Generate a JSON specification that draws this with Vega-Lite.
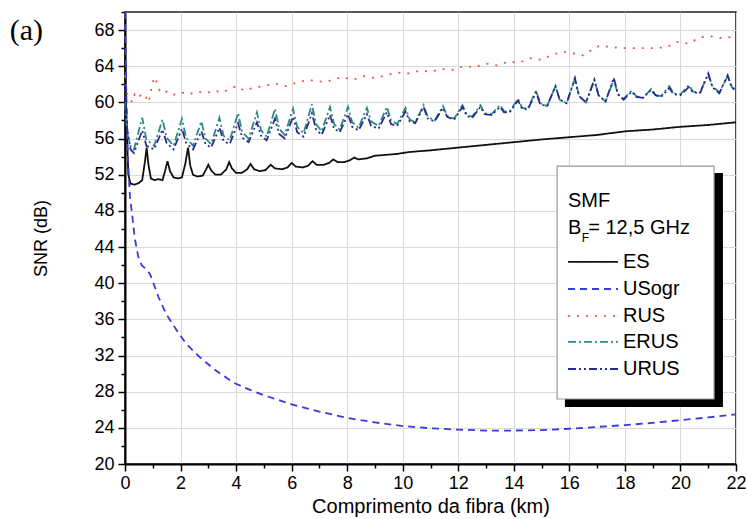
{
  "$schema": "https://vega.github.io/schema/vega-lite/v6.json",
  "width": 611,
  "height": 452,
  "autosize": {"type": "none"},
  "padding": {"left": 125, "top": 12, "right": 11, "bottom": 55},
  "background": "white",
  "config": {
    "view": {"stroke": "#222", "strokeWidth": 1.6},
    "axis": {"labelFont": "Liberation Sans", "labelFontSize": 18, "labelColor": "#000", "titleFont": "Liberation Sans", "titleFontSize": 18, "titleFontWeight": "normal", "titleColor": "#000", "domainColor": "#000", "domainWidth": 2, "tickColor": "#000", "tickWidth": 1.5, "gridColor": "#d9d9d9", "gridWidth": 1, "labelOverlap": false, "labelFlush": false, "labelBound": false}
  },
  "datasets": {
    "lines": [
      {"s":"ES","x":0,"y":67},{"s":"ES","x":0.05,"y":58},{"s":"ES","x":0.12,"y":52},{"s":"ES","x":0.2,"y":51},{"s":"ES","x":0.35,"y":50.9},{"s":"ES","x":0.5,"y":51.1},{"s":"ES","x":0.62,"y":51.4},{"s":"ES","x":0.72,"y":53.5},{"s":"ES","x":0.78,"y":55.0},{"s":"ES","x":0.84,"y":53.2},{"s":"ES","x":0.93,"y":51.6},{"s":"ES","x":1.05,"y":51.4},{"s":"ES","x":1.2,"y":51.5},{"s":"ES","x":1.35,"y":51.4},{"s":"ES","x":1.45,"y":52.5},{"s":"ES","x":1.53,"y":53.5},{"s":"ES","x":1.62,"y":52.4},{"s":"ES","x":1.75,"y":51.7},{"s":"ES","x":1.9,"y":51.6},{"s":"ES","x":2.05,"y":51.7},{"s":"ES","x":2.17,"y":53.2},{"s":"ES","x":2.27,"y":55.0},{"s":"ES","x":2.35,"y":53.0},{"s":"ES","x":2.45,"y":52.0},{"s":"ES","x":2.6,"y":51.8},{"s":"ES","x":2.8,"y":51.9},{"s":"ES","x":2.92,"y":52.6},{"s":"ES","x":3.0,"y":53.1},{"s":"ES","x":3.1,"y":52.5},{"s":"ES","x":3.25,"y":52.0},{"s":"ES","x":3.45,"y":52.0},{"s":"ES","x":3.65,"y":52.6},{"s":"ES","x":3.75,"y":53.4},{"s":"ES","x":3.85,"y":52.7},{"s":"ES","x":4.0,"y":52.2},{"s":"ES","x":4.2,"y":52.2},{"s":"ES","x":4.4,"y":52.6},{"s":"ES","x":4.52,"y":53.2},{"s":"ES","x":4.65,"y":52.6},{"s":"ES","x":4.85,"y":52.4},{"s":"ES","x":5.05,"y":52.5},{"s":"ES","x":5.25,"y":53.1},{"s":"ES","x":5.4,"y":52.7},{"s":"ES","x":5.65,"y":52.6},{"s":"ES","x":5.85,"y":52.8},{"s":"ES","x":6.0,"y":53.3},{"s":"ES","x":6.15,"y":52.9},{"s":"ES","x":6.4,"y":52.8},{"s":"ES","x":6.6,"y":53.0},{"s":"ES","x":6.75,"y":53.5},{"s":"ES","x":6.9,"y":53.1},{"s":"ES","x":7.15,"y":53.1},{"s":"ES","x":7.35,"y":53.3},{"s":"ES","x":7.5,"y":53.7},{"s":"ES","x":7.65,"y":53.4},{"s":"ES","x":7.9,"y":53.4},{"s":"ES","x":8.1,"y":53.6},{"s":"ES","x":8.25,"y":53.9},{"s":"ES","x":8.4,"y":53.7},{"s":"ES","x":8.7,"y":53.8},{"s":"ES","x":9.0,"y":54.1},{"s":"ES","x":9.4,"y":54.2},{"s":"ES","x":9.8,"y":54.3},{"s":"ES","x":10.2,"y":54.5},{"s":"ES","x":11,"y":54.7},{"s":"ES","x":12,"y":55.0},{"s":"ES","x":13,"y":55.3},{"s":"ES","x":14,"y":55.6},{"s":"ES","x":15,"y":55.9},{"s":"ES","x":16,"y":56.15},{"s":"ES","x":17,"y":56.4},{"s":"ES","x":18,"y":56.8},{"s":"ES","x":19,"y":57.0},{"s":"ES","x":20,"y":57.3},{"s":"ES","x":21,"y":57.5},{"s":"ES","x":22,"y":57.8},
      {"s":"USogr","x":0,"y":70},{"s":"USogr","x":0.04,"y":62},{"s":"USogr","x":0.1,"y":54},{"s":"USogr","x":0.18,"y":49.5},{"s":"USogr","x":0.25,"y":47.8},{"s":"USogr","x":0.35,"y":45},{"s":"USogr","x":0.48,"y":42.9},{"s":"USogr","x":0.6,"y":42},{"s":"USogr","x":0.78,"y":41.5},{"s":"USogr","x":0.9,"y":41},{"s":"USogr","x":1.0,"y":40.2},{"s":"USogr","x":1.2,"y":38.5},{"s":"USogr","x":1.5,"y":36.5},{"s":"USogr","x":1.86,"y":34.8},{"s":"USogr","x":2.2,"y":33.3},{"s":"USogr","x":2.7,"y":31.8},{"s":"USogr","x":3.2,"y":30.5},{"s":"USogr","x":3.9,"y":29.0},{"s":"USogr","x":4.5,"y":28.2},{"s":"USogr","x":5.1,"y":27.5},{"s":"USogr","x":6.0,"y":26.6},{"s":"USogr","x":7.0,"y":25.8},{"s":"USogr","x":8.0,"y":25.1},{"s":"USogr","x":9.0,"y":24.6},{"s":"USogr","x":10,"y":24.2},{"s":"USogr","x":11,"y":23.95},{"s":"USogr","x":12,"y":23.8},{"s":"USogr","x":13,"y":23.7},{"s":"USogr","x":14,"y":23.7},{"s":"USogr","x":15,"y":23.75},{"s":"USogr","x":16,"y":23.9},{"s":"USogr","x":17,"y":24.1},{"s":"USogr","x":18,"y":24.3},{"s":"USogr","x":19,"y":24.55},{"s":"USogr","x":20,"y":24.85},{"s":"USogr","x":21,"y":25.15},{"s":"USogr","x":22,"y":25.5},
      {"s":"RUS","x":0,"y":63},{"s":"RUS","x":0.05,"y":61},{"s":"RUS","x":0.15,"y":60.8},{"s":"RUS","x":0.25,"y":60.0},{"s":"RUS","x":0.35,"y":60.9},{"s":"RUS","x":0.5,"y":60.5},{"s":"RUS","x":0.6,"y":61.0},{"s":"RUS","x":0.75,"y":60.6},{"s":"RUS","x":0.85,"y":60.0},{"s":"RUS","x":0.95,"y":61.5},{"s":"RUS","x":1.05,"y":62.8},{"s":"RUS","x":1.15,"y":62.2},{"s":"RUS","x":1.25,"y":61.3},{"s":"RUS","x":1.35,"y":61.0},{"s":"RUS","x":1.5,"y":61.2},{"s":"RUS","x":1.7,"y":60.8},{"s":"RUS","x":2.0,"y":61.1},{"s":"RUS","x":2.3,"y":60.9},{"s":"RUS","x":2.6,"y":61.2},{"s":"RUS","x":2.9,"y":61.0},{"s":"RUS","x":3.2,"y":61.3},{"s":"RUS","x":3.5,"y":61.1},{"s":"RUS","x":3.8,"y":61.5},{"s":"RUS","x":4.0,"y":61.8},{"s":"RUS","x":4.3,"y":61.3},{"s":"RUS","x":4.6,"y":61.6},{"s":"RUS","x":5.0,"y":61.8},{"s":"RUS","x":5.4,"y":62.1},{"s":"RUS","x":5.8,"y":61.8},{"s":"RUS","x":6.2,"y":62.2},{"s":"RUS","x":6.6,"y":62.5},{"s":"RUS","x":7.0,"y":62.3},{"s":"RUS","x":7.4,"y":62.4},{"s":"RUS","x":7.8,"y":62.8},{"s":"RUS","x":8.2,"y":62.5},{"s":"RUS","x":8.6,"y":62.9},{"s":"RUS","x":9.0,"y":62.7},{"s":"RUS","x":9.4,"y":63.0},{"s":"RUS","x":9.8,"y":63.3},{"s":"RUS","x":10.2,"y":63.2},{"s":"RUS","x":10.6,"y":63.5},{"s":"RUS","x":11.0,"y":63.4},{"s":"RUS","x":11.4,"y":63.7},{"s":"RUS","x":11.8,"y":63.6},{"s":"RUS","x":12.2,"y":64.0},{"s":"RUS","x":12.6,"y":63.9},{"s":"RUS","x":13.0,"y":64.3},{"s":"RUS","x":13.4,"y":64.1},{"s":"RUS","x":13.8,"y":64.5},{"s":"RUS","x":14.2,"y":64.4},{"s":"RUS","x":14.6,"y":64.9},{"s":"RUS","x":15.0,"y":64.7},{"s":"RUS","x":15.4,"y":65.3},{"s":"RUS","x":15.8,"y":65.6},{"s":"RUS","x":16.2,"y":65.4},{"s":"RUS","x":16.5,"y":65.2},{"s":"RUS","x":16.8,"y":65.8},{"s":"RUS","x":17.1,"y":66.3},{"s":"RUS","x":17.5,"y":66.1},{"s":"RUS","x":18.0,"y":66.0},{"s":"RUS","x":18.5,"y":66.0},{"s":"RUS","x":19.0,"y":66.0},{"s":"RUS","x":19.5,"y":66.1},{"s":"RUS","x":19.9,"y":66.7},{"s":"RUS","x":20.3,"y":66.5},{"s":"RUS","x":20.7,"y":67.2},{"s":"RUS","x":21.1,"y":67.3},{"s":"RUS","x":21.5,"y":67.1},{"s":"RUS","x":22.0,"y":67.3},
      {"s":"ERUS","x":0,"y":60},{"s":"ERUS","x":0.08,"y":56.5},{"s":"ERUS","x":0.2,"y":55.2},
      {"s":"ERUS","x":0.32,"y":54.8},{"s":"ERUS","x":0.62,"y":58.3},{"s":"ERUS","x":0.77,"y":55.9},
      {"s":"ERUS","x":1.05,"y":55.2},{"s":"ERUS","x":1.35,"y":58.1},{"s":"ERUS","x":1.5,"y":56.1},
      {"s":"ERUS","x":1.75,"y":55.2},{"s":"ERUS","x":2.05,"y":58.2},{"s":"ERUS","x":2.2,"y":56.1},
      {"s":"ERUS","x":2.45,"y":55.2},{"s":"ERUS","x":2.75,"y":57.9},{"s":"ERUS","x":2.9,"y":56.0},
      {"s":"ERUS","x":3.1,"y":55.4},{"s":"ERUS","x":3.4,"y":58.3},{"s":"ERUS","x":3.55,"y":56.3},
      {"s":"ERUS","x":3.77,"y":55.8},{"s":"ERUS","x":4.07,"y":58.8},{"s":"ERUS","x":4.22,"y":56.7},
      {"s":"ERUS","x":4.45,"y":56.0},{"s":"ERUS","x":4.75,"y":58.9},{"s":"ERUS","x":4.9,"y":56.9},
      {"s":"ERUS","x":5.1,"y":56.2},{"s":"ERUS","x":5.4,"y":59.3},{"s":"ERUS","x":5.55,"y":57.1},
      {"s":"ERUS","x":5.75,"y":56.4},{"s":"ERUS","x":6.05,"y":59.3},{"s":"ERUS","x":6.2,"y":57.3},
      {"s":"ERUS","x":6.43,"y":56.6},{"s":"ERUS","x":6.73,"y":59.8},{"s":"ERUS","x":6.88,"y":57.6},
      {"s":"ERUS","x":7.08,"y":56.8},{"s":"ERUS","x":7.38,"y":59.5},{"s":"ERUS","x":7.53,"y":57.6},
      {"s":"ERUS","x":7.73,"y":57.0},{"s":"ERUS","x":8.03,"y":59.5},{"s":"ERUS","x":8.18,"y":57.8},
      {"s":"ERUS","x":8.41,"y":57.2},{"s":"ERUS","x":8.71,"y":59.4},{"s":"ERUS","x":8.86,"y":57.9},
      {"s":"ERUS","x":9.13,"y":57.4},{"s":"ERUS","x":9.43,"y":59.5},{"s":"ERUS","x":9.58,"y":58.0},
      {"s":"ERUS","x":9.8,"y":57.6},{"s":"ERUS","x":10.1,"y":59.4},{"s":"ERUS","x":10.25,"y":58.1},
      {"s":"ERUS","x":10.45,"y":57.8},{"s":"ERUS","x":10.75,"y":59.7},{"s":"ERUS","x":10.9,"y":58.4},
      {"s":"ERUS","x":11.15,"y":58.0},{"s":"ERUS","x":11.45,"y":59.6},{"s":"ERUS","x":11.6,"y":58.5},
      {"s":"ERUS","x":11.85,"y":58.2},{"s":"ERUS","x":12.15,"y":59.7},{"s":"ERUS","x":12.3,"y":58.7},
      {"s":"ERUS","x":12.5,"y":58.4},{"s":"ERUS","x":12.8,"y":59.7},{"s":"ERUS","x":12.95,"y":58.8},
      {"s":"ERUS","x":13.2,"y":58.7},{"s":"ERUS","x":13.5,"y":59.7},{"s":"ERUS","x":13.65,"y":59.0},
      {"s":"ERUS","x":13.85,"y":59.0},{"s":"ERUS","x":14.15,"y":60.4},{"s":"ERUS","x":14.3,"y":59.4},
      {"s":"ERUS","x":14.5,"y":59.3},{"s":"ERUS","x":14.8,"y":61.3},{"s":"ERUS","x":14.95,"y":59.9},
      {"s":"ERUS","x":15.2,"y":59.6},{"s":"ERUS","x":15.5,"y":61.8},{"s":"ERUS","x":15.65,"y":60.3},
      {"s":"ERUS","x":15.9,"y":59.9},{"s":"ERUS","x":16.2,"y":62.6},{"s":"ERUS","x":16.35,"y":60.7},
      {"s":"ERUS","x":16.6,"y":60.0},{"s":"ERUS","x":16.9,"y":62.5},{"s":"ERUS","x":17.05,"y":60.8},
      {"s":"ERUS","x":17.3,"y":60.1},{"s":"ERUS","x":17.6,"y":62.5},{"s":"ERUS","x":17.75,"y":60.9},
      {"s":"ERUS","x":17.95,"y":60.4},{"s":"ERUS","x":18.25,"y":61.3},{"s":"ERUS","x":18.4,"y":60.7},
      {"s":"ERUS","x":18.65,"y":60.5},{"s":"ERUS","x":18.95,"y":61.5},{"s":"ERUS","x":19.1,"y":60.8},
      {"s":"ERUS","x":19.3,"y":60.7},{"s":"ERUS","x":19.6,"y":61.8},{"s":"ERUS","x":19.75,"y":61.0},
      {"s":"ERUS","x":20.0,"y":60.9},{"s":"ERUS","x":20.3,"y":61.9},{"s":"ERUS","x":20.45,"y":61.2},
      {"s":"ERUS","x":20.7,"y":61.1},{"s":"ERUS","x":21.0,"y":63.1},{"s":"ERUS","x":21.15,"y":61.8},
      {"s":"ERUS","x":21.4,"y":61.1},{"s":"ERUS","x":21.7,"y":62.9},{"s":"ERUS","x":21.85,"y":61.7},
      {"s":"ERUS","x":22,"y":61.4},
      {"s":"URUS","x":0,"y":62},{"s":"URUS","x":0.08,"y":57},{"s":"URUS","x":0.2,"y":54.8},
      {"s":"URUS","x":0.32,"y":54.4},{"s":"URUS","x":0.62,"y":56.9},{"s":"URUS","x":0.77,"y":55.2},
      {"s":"URUS","x":1.05,"y":54.8},{"s":"URUS","x":1.35,"y":57.0},{"s":"URUS","x":1.5,"y":55.5},
      {"s":"URUS","x":1.75,"y":54.8},{"s":"URUS","x":2.05,"y":57.1},{"s":"URUS","x":2.2,"y":55.5},
      {"s":"URUS","x":2.45,"y":54.8},{"s":"URUS","x":2.75,"y":56.8},{"s":"URUS","x":2.9,"y":55.4},
      {"s":"URUS","x":3.1,"y":55.0},{"s":"URUS","x":3.4,"y":57.2},{"s":"URUS","x":3.55,"y":55.7},
      {"s":"URUS","x":3.77,"y":55.4},{"s":"URUS","x":4.07,"y":57.7},{"s":"URUS","x":4.22,"y":56.1},
      {"s":"URUS","x":4.45,"y":55.6},{"s":"URUS","x":4.75,"y":57.8},{"s":"URUS","x":4.9,"y":56.3},
      {"s":"URUS","x":5.1,"y":55.8},{"s":"URUS","x":5.4,"y":58.2},{"s":"URUS","x":5.55,"y":56.5},
      {"s":"URUS","x":5.75,"y":56.0},{"s":"URUS","x":6.05,"y":58.4},{"s":"URUS","x":6.2,"y":56.7},
      {"s":"URUS","x":6.43,"y":56.2},{"s":"URUS","x":6.73,"y":58.8},{"s":"URUS","x":6.88,"y":57.0},
      {"s":"URUS","x":7.08,"y":56.4},{"s":"URUS","x":7.38,"y":58.6},{"s":"URUS","x":7.53,"y":57.1},
      {"s":"URUS","x":7.73,"y":56.7},{"s":"URUS","x":8.03,"y":58.7},{"s":"URUS","x":8.18,"y":57.3},
      {"s":"URUS","x":8.41,"y":56.9},{"s":"URUS","x":8.71,"y":58.7},{"s":"URUS","x":8.86,"y":57.4},
      {"s":"URUS","x":9.13,"y":57.1},{"s":"URUS","x":9.43,"y":58.9},{"s":"URUS","x":9.58,"y":57.6},
      {"s":"URUS","x":9.8,"y":57.4},{"s":"URUS","x":10.1,"y":59.0},{"s":"URUS","x":10.25,"y":57.9},
      {"s":"URUS","x":10.45,"y":57.7},{"s":"URUS","x":10.75,"y":59.5},{"s":"URUS","x":10.9,"y":58.2},
      {"s":"URUS","x":11.15,"y":57.9},{"s":"URUS","x":11.45,"y":59.4},{"s":"URUS","x":11.6,"y":58.4},
      {"s":"URUS","x":11.85,"y":58.1},{"s":"URUS","x":12.15,"y":59.5},{"s":"URUS","x":12.3,"y":58.5},
      {"s":"URUS","x":12.5,"y":58.3},{"s":"URUS","x":12.8,"y":59.5},{"s":"URUS","x":12.95,"y":58.7},
      {"s":"URUS","x":13.2,"y":58.6},{"s":"URUS","x":13.5,"y":59.5},{"s":"URUS","x":13.65,"y":58.9},
      {"s":"URUS","x":13.85,"y":58.9},{"s":"URUS","x":14.15,"y":60.2},{"s":"URUS","x":14.3,"y":59.3},
      {"s":"URUS","x":14.5,"y":59.2},{"s":"URUS","x":14.8,"y":61.1},{"s":"URUS","x":14.95,"y":59.8},
      {"s":"URUS","x":15.2,"y":59.6},{"s":"URUS","x":15.5,"y":61.8},{"s":"URUS","x":15.65,"y":60.3},
      {"s":"URUS","x":15.9,"y":59.9},{"s":"URUS","x":16.2,"y":62.7},{"s":"URUS","x":16.35,"y":60.7},
      {"s":"URUS","x":16.6,"y":60.0},{"s":"URUS","x":16.9,"y":62.5},{"s":"URUS","x":17.05,"y":60.8},
      {"s":"URUS","x":17.3,"y":60.1},{"s":"URUS","x":17.6,"y":62.7},{"s":"URUS","x":17.75,"y":60.9},
      {"s":"URUS","x":17.95,"y":60.3},{"s":"URUS","x":18.25,"y":61.2},{"s":"URUS","x":18.4,"y":60.6},
      {"s":"URUS","x":18.65,"y":60.5},{"s":"URUS","x":18.95,"y":61.4},{"s":"URUS","x":19.1,"y":60.8},
      {"s":"URUS","x":19.3,"y":60.6},{"s":"URUS","x":19.6,"y":61.6},{"s":"URUS","x":19.75,"y":60.9},
      {"s":"URUS","x":20.0,"y":60.8},{"s":"URUS","x":20.3,"y":61.7},{"s":"URUS","x":20.45,"y":61.1},
      {"s":"URUS","x":20.7,"y":61.0},{"s":"URUS","x":21.0,"y":63.2},{"s":"URUS","x":21.15,"y":61.7},
      {"s":"URUS","x":21.4,"y":61.0},{"s":"URUS","x":21.7,"y":63.0},{"s":"URUS","x":21.85,"y":61.6},
      {"s":"URUS","x":22,"y":61.3}
    ],
    "legendRows": [
      {"s":"ES","x":15.95,"x2":17.75,"y":42.35},
      {"s":"USogr","x":15.95,"x2":17.75,"y":39.36},
      {"s":"RUS","x":15.95,"x2":17.75,"y":36.38},
      {"s":"ERUS","x":15.95,"x2":17.75,"y":33.5},
      {"s":"URUS","x":15.95,"x2":17.75,"y":30.51}
    ],
    "legendText": [
      {"t":"SMF","x":15.95,"y":49.1},
      {"t":"B","x":15.95,"y":46.1},
      {"t":"= 12,5 GHz","x":16.68,"y":46.1},
      {"t":"ES","x":17.93,"y":42.35},
      {"t":"USogr","x":17.93,"y":39.36},
      {"t":"RUS","x":17.93,"y":36.38},
      {"t":"ERUS","x":17.93,"y":33.5},
      {"t":"URUS","x":17.93,"y":30.51}
    ],
    "legendSub": [
      {"t":"F","x":16.45,"y":45.0}
    ],
    "panel": [
      {"t":"(a)","x":-4.15,"y":67.9}
    ]
  },
  "encoding": {
    "x": {"type": "quantitative", "scale": {"domain": [0, 22], "nice": false, "zero": false},
      "axis": {"title": "Comprimento da fibra (km)", "titleFontSize": 20, "values": [0,1,2,3,4,5,6,7,8,9,10,11,12,13,14,15,16,17,18,19,20,21,22],
        "labelExpr": "datum.value % 2 === 0 ? datum.label : ''",
        "gridOpacity": {"condition": {"test": "datum.value % 2 === 0", "value": 1}, "value": 0},
        "tickSize": {"condition": {"test": "datum.value % 2 === 0", "value": 7}, "value": 4},
        "labelPadding": 3, "titlePadding": 4}},
    "y": {"type": "quantitative", "scale": {"domain": [20, 70], "nice": false, "zero": false},
      "axis": {"title": "SNR (dB)", "values": [20,22,24,26,28,30,32,34,36,38,40,42,44,46,48,50,52,54,56,58,60,62,64,66,68,70],
        "labelExpr": "datum.value % 4 === 0 ? datum.label : ''",
        "gridOpacity": {"condition": {"test": "datum.value % 4 === 0", "value": 1}, "value": 0},
        "tickSize": {"condition": {"test": "datum.value % 4 === 0", "value": 7}, "value": 4},
        "labelPadding": 4, "titlePadding": 43}}
  },
  "layer": [
    {
      "data": {"name": "lines"},
      "mark": {"type": "line", "strokeWidth": 1.8},
      "encoding": {
        "x": {"field": "x", "type": "quantitative"},
        "y": {"field": "y", "type": "quantitative"},
        "color": {"field": "s", "type": "nominal", "legend": null,
          "scale": {"domain": ["ES","USogr","RUS","ERUS","URUS"], "range": ["#111111","#3b3bd6","#e8564d","#2a8a84","#2b2b8e"]}},
        "strokeDash": {"field": "s", "type": "nominal", "legend": null,
          "scale": {"domain": ["ES","USogr","RUS","ERUS","URUS"], "range": [[1,0],[7,5],[2,7],[8,3,2,3],[8,3,2,3,2,3]]}}
      }
    },
    {
      "data": {"values": [{}]},
      "mark": {"type": "rect", "color": "#000", "opacity": 1},
      "encoding": {"x": {"datum": 15.84}, "x2": {"datum": 21.53}, "y": {"datum": 52.19}, "y2": {"datum": 26.3}}
    },
    {
      "data": {"values": [{}]},
      "mark": {"type": "rect", "fill": "white", "stroke": "#999", "strokeWidth": 1.2, "opacity": 1},
      "encoding": {"x": {"datum": 15.56}, "x2": {"datum": 21.21}, "y": {"datum": 52.96}, "y2": {"datum": 27.19}}
    },
    {
      "data": {"name": "legendRows"},
      "mark": {"type": "rule", "strokeWidth": 1.8},
      "encoding": {
        "x": {"field": "x", "type": "quantitative"},
        "x2": {"field": "x2"},
        "y": {"field": "y", "type": "quantitative"},
        "color": {"field": "s", "type": "nominal", "legend": null},
        "strokeDash": {"field": "s", "type": "nominal", "legend": null}
      }
    },
    {
      "data": {"name": "legendText"},
      "mark": {"type": "text", "align": "left", "baseline": "middle", "font": "Liberation Sans", "fontSize": 20, "color": "#000"},
      "encoding": {
        "x": {"field": "x", "type": "quantitative"},
        "y": {"field": "y", "type": "quantitative"},
        "text": {"field": "t"}
      }
    },
    {
      "data": {"name": "legendSub"},
      "mark": {"type": "text", "align": "left", "baseline": "middle", "font": "Liberation Sans", "fontSize": 12, "color": "#000"},
      "encoding": {
        "x": {"field": "x", "type": "quantitative"},
        "y": {"field": "y", "type": "quantitative"},
        "text": {"field": "t"}
      }
    },
    {
      "data": {"name": "panel"},
      "mark": {"type": "text", "align": "left", "baseline": "middle", "font": "Liberation Serif", "fontSize": 30, "color": "#000"},
      "encoding": {
        "x": {"field": "x", "type": "quantitative"},
        "y": {"field": "y", "type": "quantitative"},
        "text": {"field": "t"}
      }
    }
  ]
}
